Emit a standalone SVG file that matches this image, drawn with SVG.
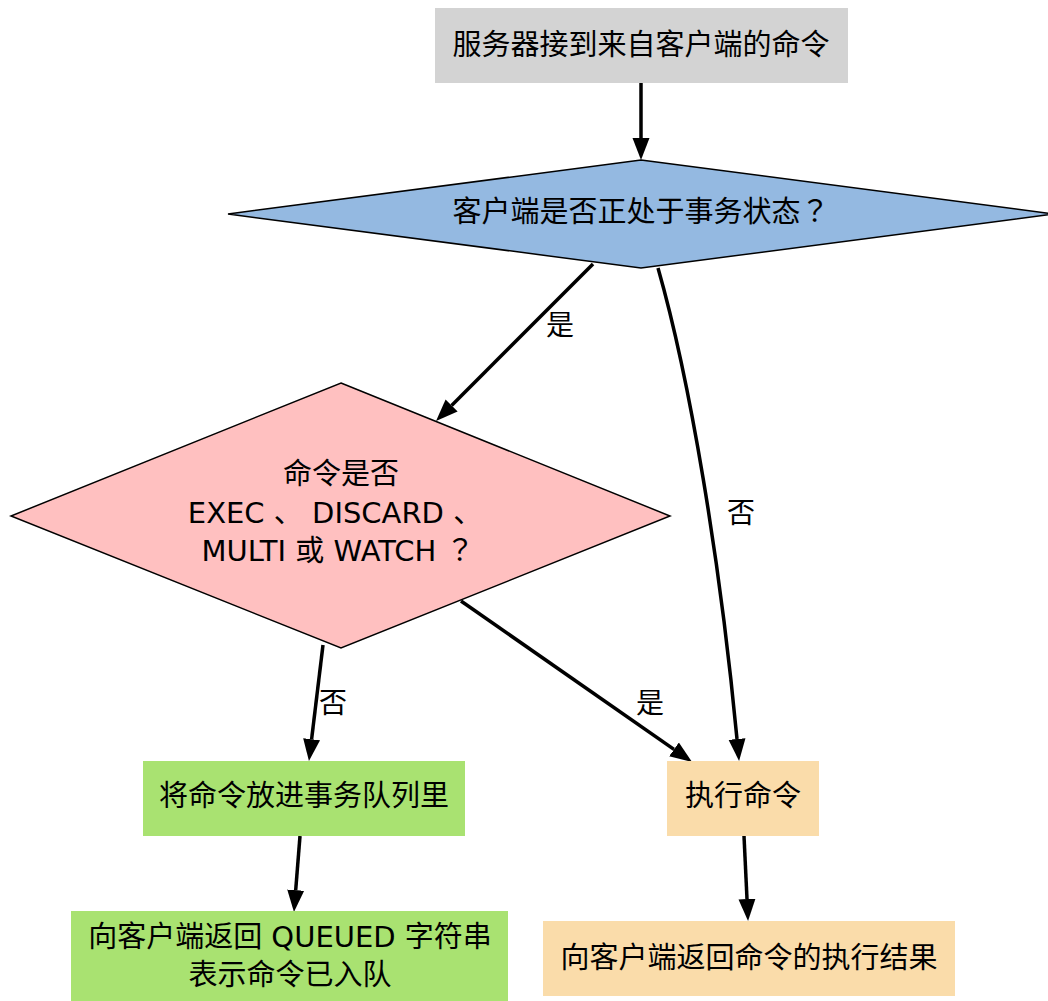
<svg xmlns="http://www.w3.org/2000/svg" width="1048" height="1001" viewBox="0 0 1048 1001">
<defs>
<style>
text{font-family:"DejaVu Sans","Noto Sans CJK SC",sans-serif;font-size:29px;fill:#000;text-anchor:middle}
.cjk{font-family:"Noto Sans CJK SC",sans-serif}
.q{font-family:"Noto Sans CJK TC",sans-serif}
.lbl{font-size:28px}
.edge{fill:none;stroke:#000;stroke-width:3.5}
.diam{stroke:#000;stroke-width:1.5}
</style>
<marker id="arr" markerUnits="userSpaceOnUse" markerWidth="24" markerHeight="20" refX="0" refY="9" orient="auto" viewBox="0 0 24 20">
<path d="M0,0.5 L22,9 L0,17.5 z" fill="#000"/>
</marker>
</defs>
<rect width="1048" height="1001" fill="#fff"/>
<g id="edges">
<path class="edge" d="M641,83 L641,138" marker-end="url(#arr)"/>
<path class="edge" d="M593,264 L451.6,405.4" marker-end="url(#arr)"/>
<path class="edge" d="M658,268 C690,380 720,560 737,739" marker-end="url(#arr)"/>
<path class="edge" d="M323,645 L311.6,739.2" marker-end="url(#arr)"/>
<path class="edge" d="M461,601 L674,749.4" marker-end="url(#arr)"/>
<path class="edge" d="M300,836 L295.7,890.1" marker-end="url(#arr)"/>
<path class="edge" d="M744,836 L747,899" marker-end="url(#arr)"/>
<text class="lbl" x="560" y="335">是</text>
<text class="lbl" x="741" y="523">否</text>
<text class="lbl" x="333" y="713">否</text>
<text class="lbl" x="650" y="713">是</text>
</g>
<g id="n_start">
<rect x="435" y="8" width="413" height="75" fill="#d3d3d3"/>
<text x="641" y="55">服务器接到来自客户端的命令</text>
</g>
<g id="n_intx">
<polygon class="diam" points="641,160 1054,214 641,268 228,214" fill="#94b9e1"/>
<text x="641" y="222">客户端是否正处于事务状态<tspan class="q">？</tspan></text>
</g>
<g id="n_cmd">
<polygon class="diam" points="341,383 670,516 341,648 11,516" fill="#ffc0c0"/>
<text x="341" y="484">命令是否</text>
<text x="335" y="522.5">EXEC <tspan class="cjk">、</tspan> DISCARD <tspan class="cjk">、</tspan></text>
<text x="338" y="561">MULTI 或 WATCH <tspan class="q">？</tspan></text>
</g>
<g id="n_queue">
<rect x="143" y="761" width="322" height="75" fill="#a9e271"/>
<text x="304" y="806">将命令放进事务队列里</text>
</g>
<g id="n_exec">
<rect x="667" y="761" width="152" height="75" fill="#fadcaa"/>
<text x="743" y="806">执行命令</text>
</g>
<g id="n_queued">
<rect x="71" y="911" width="437" height="92" fill="#a9e271"/>
<text x="290" y="947">向客户端返回 QUEUED 字符串</text>
<text x="290" y="985">表示命令已入队</text>
</g>
<g id="n_result">
<rect x="543" y="921" width="412" height="75" fill="#fadcaa"/>
<text x="749" y="968">向客户端返回命令的执行结果</text>
</g>
</svg>
